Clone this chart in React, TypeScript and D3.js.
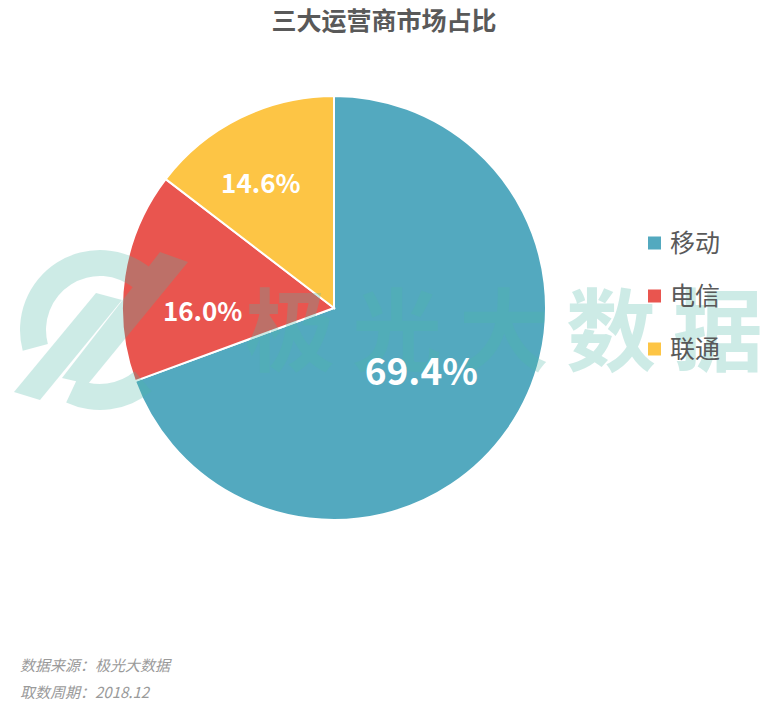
import { arc, pie, scaleOrdinal } from 'd3'
import type { PieArcDatum } from 'd3'

const carriers = ['移动', '电信', '联通']
const shares = [69.4, 16.0, 14.6]
const colors = ['#53a9bf', '#e9554f', '#fdc545']
const watermarkChars = ['极', '光', '大', '数', '据']

const width = 774
const height = 707
const cx = 334
const cy = 308
const radius = 212

type Slice = { name: string; value: number }

const data: Slice[] = carriers.map((name, i) => ({ name, value: shares[i] }))

// label placement: fraction along the slice's angle, fraction of radius, font size
const labelAngleFrac = [0.505, 0.32, 0.42]
const labelRadius = [0.51, 0.62, 0.68]
const labelSize = [37, 26, 26]

function App() {
  const color = scaleOrdinal<string, string>().domain(carriers).range(colors)

  const arcs = pie<Slice>()
    .value((d) => d.value)
    .sort(null)(data)

  const sliceArc = arc<PieArcDatum<Slice>>().innerRadius(0).outerRadius(radius)

  const ringArc = arc<{ startAngle: number; endAngle: number }>()
    .innerRadius(54)
    .outerRadius(80)

  const font = '"Noto Sans CJK SC", "Microsoft YaHei", sans-serif'

  return (
    <svg width={width} height={height} style={{ display: 'block', margin: '-8px' }}>
      <rect width={width} height={height} fill="#ffffff" />
      <text
        x={384}
        y={30}
        textAnchor="middle"
        fontFamily={font}
        fontWeight="bold"
        fontSize={25}
        fill="#595959"
      >
        三大运营商市场占比
      </text>

      <g transform={`translate(${cx}, ${cy})`}>
        {arcs.map((d) => (
          <path
            key={d.data.name}
            d={sliceArc(d) ?? ''}
            fill={color(d.data.name)}
            stroke="#ffffff"
            strokeWidth={2}
          />
        ))}
      </g>

      {/* watermark */}
      <g opacity={0.28} fill="#4fb8a8">
        <g transform="translate(100, 330)">
          <path d={ringArc({ startAngle: (-105 * Math.PI) / 180, endAngle: (40 * Math.PI) / 180 }) ?? ''} />
          <path d={ringArc({ startAngle: (140 * Math.PI) / 180, endAngle: (205 * Math.PI) / 180 }) ?? ''} />
        </g>
        <polygon points="14,392 40,400 122,300 96,293" />
        <polygon points="62,378 88,384 188,262 160,252" />
        {watermarkChars.map((ch, i) => (
          <text
            key={ch + i}
            x={290 + i * 107}
            y={364}
            textAnchor="middle"
            fontFamily={font}
            fontWeight="bold"
            fontSize={90}
          >
            {ch}
          </text>
        ))}
      </g>

      <g transform={`translate(${cx}, ${cy})`}>
        {arcs.map((d, i) => {
          const a = d.startAngle + (d.endAngle - d.startAngle) * labelAngleFrac[i]
          const r = radius * labelRadius[i]
          const lx = r * Math.sin(a)
          const ly = -r * Math.cos(a)
          return (
            <text
              key={`${d.data.name}-label`}
              x={lx}
              y={ly}
              dy="0.36em"
              textAnchor="middle"
              fontFamily={font}
              fontWeight="bold"
              fontSize={labelSize[i]}
              fill="#ffffff"
            >
              {`${d.data.value.toFixed(1)}%`}
            </text>
          )
        })}
      </g>

      <g transform="translate(648, 243)">
        {carriers.map((name, i) => (
          <g key={`${name}-legend`} transform={`translate(0, ${i * 53})`}>
            <rect x={0} y={-6.5} width={13} height={13} fill={color(name)} />
            <text x={22} y={0} dy="0.35em" fontFamily={font} fontSize={25} fill="#595959">
              {name}
            </text>
          </g>
        ))}
      </g>

      <g fontFamily={font} fontStyle="italic" fontSize={15} fill="#9a9a9a">
        <text x={20} y={671}>数据来源：极光大数据</text>
        <text x={20} y={698}>取数周期：2018.12</text>
      </g>
    </svg>
  )
}

export default App
